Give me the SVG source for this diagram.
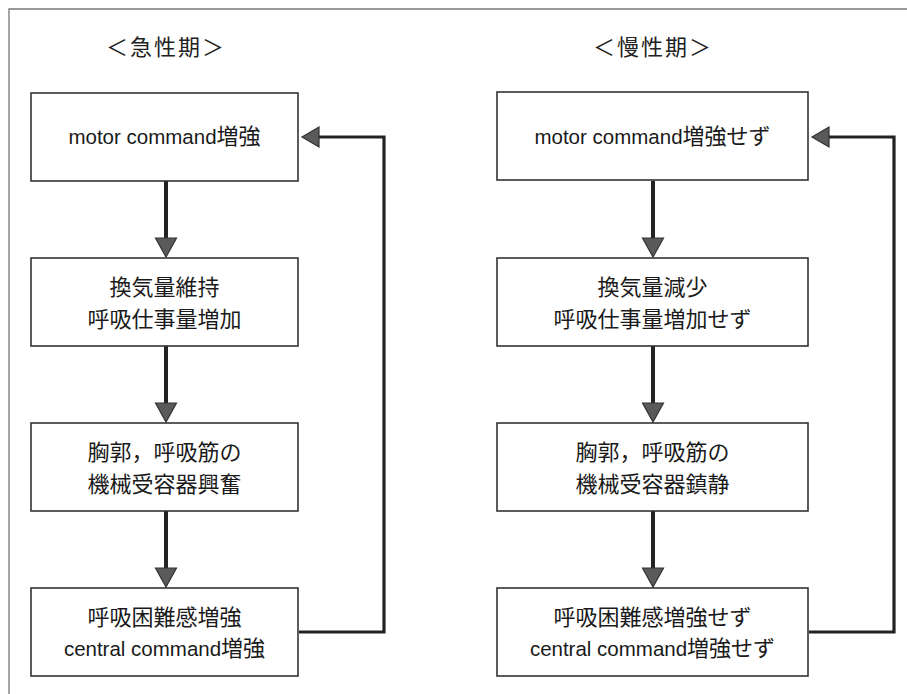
<svg xmlns="http://www.w3.org/2000/svg" width="907" height="694" viewBox="0 0 907 694">
<style>
  .frame{fill:none;stroke:#777;stroke-width:1.3}
  .box{fill:#fff;stroke:#333;stroke-width:1.6}
  .t{font-family:"Liberation Sans","Noto Sans CJK JP",sans-serif;font-size:22px;fill:#1a1a1a;text-anchor:middle}
  .lat{font-size:20.5px}
  .h{font-family:"Noto Sans CJK JP",sans-serif;font-size:22px;fill:#222;text-anchor:middle;letter-spacing:2px}
  .shaft{fill:none;stroke:#222;stroke-width:4}
  .fb{fill:none;stroke:#222;stroke-width:3.2}
  .head{fill:#5a5a5a;stroke:#333;stroke-width:1.2;stroke-linejoin:miter}
</style>
<rect width="907" height="694" fill="#fff"/>
<path class="frame" d="M9,694 V9 H907"/>
<text class="h" x="166" y="55">＜急性期＞</text>
<text class="h" x="653" y="55">＜慢性期＞</text>

<g id="connectors">
  <line class="shaft" x1="166" y1="181" x2="166" y2="240"/>
  <polygon class="head" points="155.5,238 176.5,238 166,257"/>
  <line class="shaft" x1="166" y1="346" x2="166" y2="405"/>
  <polygon class="head" points="155.5,403 176.5,403 166,422"/>
  <line class="shaft" x1="166" y1="511" x2="166" y2="570"/>
  <polygon class="head" points="155.5,568 176.5,568 166,587"/>
  <polyline class="fb" points="299,632 384,632 384,137 317,137"/>
  <polygon class="head" points="319,127 319,147 302,137"/>
  <line class="shaft" x1="653" y1="181" x2="653" y2="240"/>
  <polygon class="head" points="642.5,238 663.5,238 653,257"/>
  <line class="shaft" x1="653" y1="346" x2="653" y2="405"/>
  <polygon class="head" points="642.5,403 663.5,403 653,422"/>
  <line class="shaft" x1="653" y1="511" x2="653" y2="570"/>
  <polygon class="head" points="642.5,568 663.5,568 653,587"/>
  <polyline class="fb" points="809,632 894,632 894,137 827,137"/>
  <polygon class="head" points="829,127 829,147 812,137"/>
</g>

<g id="acute-motor">
  <rect class="box" x="31" y="93" width="267" height="88"/>
  <text class="t" x="164.5" y="144"><tspan class="lat">motor command</tspan>増強</text>
</g>
<g id="acute-ventilation">
  <rect class="box" x="31" y="258" width="267" height="88"/>
  <text class="t" x="164.5" y="295">換気量維持</text>
  <text class="t" x="164.5" y="327">呼吸仕事量増加</text>
</g>
<g id="acute-mechano">
  <rect class="box" x="31" y="423" width="267" height="88"/>
  <text class="t" x="164.5" y="460">胸郭，呼吸筋の</text>
  <text class="t" x="164.5" y="492">機械受容器興奮</text>
</g>
<g id="acute-dyspnea">
  <rect class="box" x="31" y="588" width="267" height="88"/>
  <text class="t" x="164.5" y="625">呼吸困難感増強</text>
  <text class="t" x="164.5" y="656"><tspan class="lat">central command</tspan>増強</text>
</g>

<g id="chronic-motor">
  <rect class="box" x="497" y="92" width="311" height="88"/>
  <text class="t" x="652.5" y="144"><tspan class="lat">motor command</tspan>増強せず</text>
</g>
<g id="chronic-ventilation">
  <rect class="box" x="497" y="258" width="311" height="88"/>
  <text class="t" x="652.5" y="295">換気量減少</text>
  <text class="t" x="652.5" y="327">呼吸仕事量増加せず</text>
</g>
<g id="chronic-mechano">
  <rect class="box" x="497" y="423" width="311" height="88"/>
  <text class="t" x="652.5" y="460">胸郭，呼吸筋の</text>
  <text class="t" x="652.5" y="492">機械受容器鎮静</text>
</g>
<g id="chronic-dyspnea">
  <rect class="box" x="497" y="588" width="311" height="88"/>
  <text class="t" x="652.5" y="625">呼吸困難感増強せず</text>
  <text class="t" x="652.5" y="656"><tspan class="lat">central command</tspan>増強せず</text>
</g>
</svg>
